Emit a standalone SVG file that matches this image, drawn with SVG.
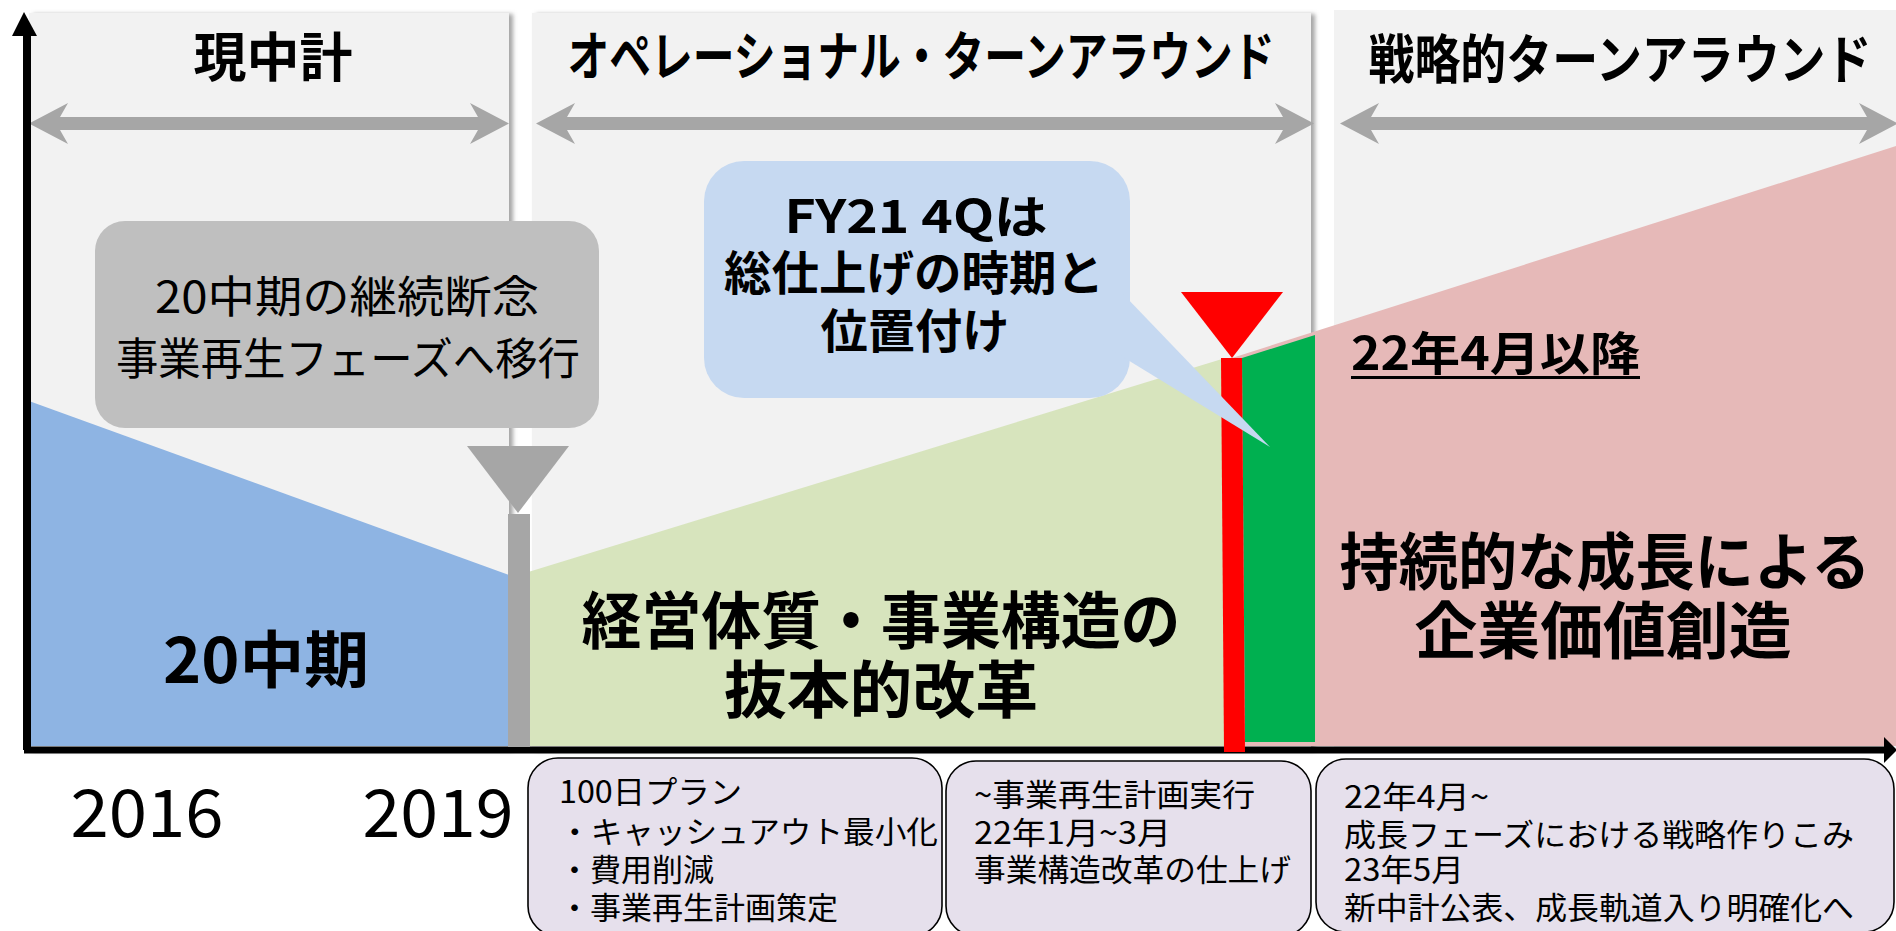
<svg xmlns="http://www.w3.org/2000/svg" width="1896" height="931" viewBox="0 0 1896 931">
<defs>
<style>
.t{font-family:"Noto Sans CJK JP","Noto Sans",sans-serif;fill:#000}
.b{font-weight:bold}
.r{font-weight:normal}
.c{text-anchor:middle}
.panel{fill:#f2f2f2}
.darr{fill:#a6a6a6}
.box{fill:#e6e0ec;stroke:#000;stroke-width:1.6}
</style>
<filter id="sh" x="-5%" y="-5%" width="110%" height="110%">
<feDropShadow dx="4" dy="1" stdDeviation="2" flood-color="#808080" flood-opacity="0.7"/>
</filter>
</defs>
<rect width="1896" height="931" fill="#fff"/>

<g id="panel-current">
<rect class="panel" x="29" y="13" width="480" height="737" filter="url(#sh)"/>
<text class="t b c" x="273" y="77" font-size="53">現中計</text>
<path class="darr" d="M29,123.5 L68,103 L60,117 L478,117 L470,103 L509,123.5 L470,144 L478,130 L60,130 L68,144 Z"/>
</g>
<g id="panel-operational">
<rect class="panel" x="532" y="13" width="779" height="737" filter="url(#sh)"/>
<text class="t b c" x="921" y="76" font-size="53" textLength="707" lengthAdjust="spacingAndGlyphs">オペレーショナル・ターンアラウンド</text>
<path class="darr" d="M536,123.5 L575,103 L567,117 L1283,117 L1275,103 L1314,123.5 L1275,144 L1283,130 L567,130 L575,144 Z"/>
</g>
<g id="panel-strategic">
<rect class="panel" x="1334" y="10" width="570" height="740"/>
<text class="t b c" x="1620" y="79" font-size="53" textLength="503" lengthAdjust="spacingAndGlyphs">戦略的ターンアラウンド</text>
<path class="darr" d="M1340,123.5 L1379,103 L1371,117 L1867,117 L1859,103 L1898,123.5 L1859,144 L1867,130 L1371,130 L1379,144 Z"/>
</g>

<g id="area-20chuki">
<polygon points="29,401 509,575 509,746 29,746" fill="#8eb4e3"/>
<text class="t b c" x="266" y="683" font-size="62" textLength="206" lengthAdjust="spacingAndGlyphs">20中期</text>
</g>
<g id="area-reform">
<polygon points="512,577 1222,359 1225,746 512,746" fill="#d7e4bd"/>
<text class="t b c" x="881" y="644" font-size="62" textLength="599" lengthAdjust="spacingAndGlyphs">経営体質・事業構造の</text>
<text class="t b c" x="881" y="713" font-size="62" textLength="314" lengthAdjust="spacingAndGlyphs">抜本的改革</text>
</g>
<g id="area-growth">
<polygon points="1232,358 1896,146 1896,746 1232,746" fill="#e6b9b8"/>
<text class="t b c" x="1605" y="585" font-size="62" textLength="531" lengthAdjust="spacingAndGlyphs">持続的な成長による</text>
<text class="t b c" x="1603" y="654" font-size="62" textLength="377" lengthAdjust="spacingAndGlyphs">企業価値創造</text>
</g>
<g id="label-april22">
<text class="t b" x="1351" y="370" font-size="46" textLength="289" lengthAdjust="spacingAndGlyphs">22年4月以降</text>
<rect x="1351" y="376" width="289" height="3" fill="#000"/>
</g>

<g id="connectors">
<path d="M27,750 L27,34" stroke="#000" stroke-width="8" fill="none"/>
<polygon points="24,12 37,36 12,36" fill="#000"/>
<path d="M24,750 L1886,750" stroke="#000" stroke-width="7" fill="none"/>
<polygon points="1897,750 1884,737 1884,763" fill="#000"/>
</g>

<g id="green-bar">
<polygon points="1242,358 1315,335 1315,742 1245,742" fill="#00b050"/>
</g>
<g id="marker-fy21">
<polygon points="1221,358 1242,358 1245,752 1224,752" fill="#ff0000"/>
<polygon points="1181,292 1283,292 1232,358" fill="#ff0000"/>
</g>
<g id="marker-2019">
<rect x="508" y="514" width="22" height="233" fill="#a6a6a6"/>
<polygon points="467,446 569,446 518,513" fill="#a6a6a6"/>
</g>

<g id="callout-grey">
<rect x="95" y="221" width="504" height="207" rx="30" fill="#bfbfbf"/>
<text class="t r c" x="347" y="313" font-size="44" textLength="384" lengthAdjust="spacingAndGlyphs">20中期の継続断念</text>
<text class="t r c" x="348" y="375" font-size="44" textLength="464" lengthAdjust="spacingAndGlyphs">事業再生フェーズへ移行</text>
</g>
<g id="callout-blue">
<rect x="704" y="161" width="426" height="237" rx="40" fill="#c6d9f1"/>
<polygon points="1100,270 1270,447 1100,343" fill="#c6d9f1"/>
<text class="t b c" x="916" y="233" font-size="46" textLength="263" lengthAdjust="spacingAndGlyphs">FY21 4Qは</text>
<text class="t b c" x="914" y="290" font-size="47" textLength="380" lengthAdjust="spacingAndGlyphs">総仕上げの時期と</text>
<text class="t b c" x="915" y="348" font-size="47" textLength="189" lengthAdjust="spacingAndGlyphs">位置付け</text>
</g>

<g id="year-2016"><text class="t r c" x="147" y="837" font-size="66" textLength="153" lengthAdjust="spacingAndGlyphs">2016</text></g>
<g id="year-2019"><text class="t r c" x="438" y="837" font-size="66" textLength="151" lengthAdjust="spacingAndGlyphs">2019</text></g>

<g id="box-100day">
<rect class="box" x="528" y="758" width="414" height="178" rx="30"/>
<text class="t r" x="559" y="803" font-size="31" textLength="183" lengthAdjust="spacingAndGlyphs">100日プラン</text>
<text class="t r" x="559" y="843" font-size="31" textLength="379" lengthAdjust="spacingAndGlyphs">・キャッシュアウト最小化</text>
<text class="t r" x="559" y="881" font-size="31">・費用削減</text>
<text class="t r" x="559" y="919" font-size="31">・事業再生計画策定</text>
</g>
<g id="box-execution">
<rect class="box" x="946" y="761" width="365" height="175" rx="30"/>
<text class="t r" x="974" y="806" font-size="31" textLength="281" lengthAdjust="spacingAndGlyphs">~事業再生計画実行</text>
<text class="t r" x="974" y="844" font-size="31" textLength="197" lengthAdjust="spacingAndGlyphs">22年1月~3月</text>
<text class="t r" x="974" y="881" font-size="31" textLength="317" lengthAdjust="spacingAndGlyphs">事業構造改革の仕上げ</text>
</g>
<g id="box-growth">
<rect class="box" x="1316" y="759" width="578" height="173" rx="30"/>
<text class="t r" x="1344" y="808" font-size="31" textLength="145" lengthAdjust="spacingAndGlyphs">22年4月~</text>
<text class="t r" x="1344" y="846" font-size="31" textLength="510" lengthAdjust="spacingAndGlyphs">成長フェーズにおける戦略作りこみ</text>
<text class="t r" x="1344" y="881" font-size="31" textLength="120" lengthAdjust="spacingAndGlyphs">23年5月</text>
<text class="t r" x="1344" y="919" font-size="31" textLength="510" lengthAdjust="spacingAndGlyphs">新中計公表、成長軌道入り明確化へ</text>
</g>
</svg>
